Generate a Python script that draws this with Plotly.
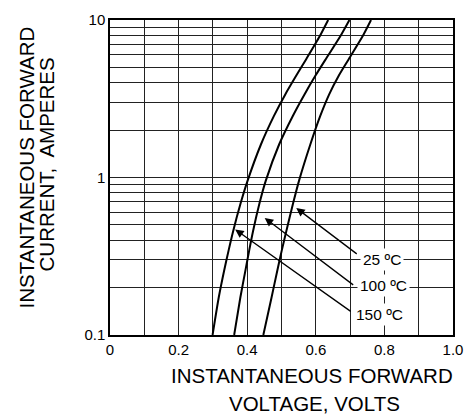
import math
import plotly.graph_objects as go

# ---- data ----
current_a = [0.1, 0.173, 0.258, 0.346, 0.456, 0.688, 0.952, 1.62, 2.46, 3.37, 4.47, 5.64, 7.85, 10.0]
v_150c = [0.299, 0.317, 0.333, 0.346, 0.359, 0.381, 0.401, 0.440, 0.478, 0.511, 0.544, 0.572, 0.611, 0.636]
v_100c = [0.362, 0.380, 0.395, 0.406, 0.417, 0.436, 0.454, 0.493, 0.533, 0.567, 0.600, 0.629, 0.671, 0.698]
v_25c = [0.447, 0.471, 0.488, 0.501, 0.514, 0.534, 0.551, 0.584, 0.613, 0.639, 0.668, 0.696, 0.736, 0.761]

series_names = ["25 ºC", "100 ºC", "150 ºC"]
arrow_tip_v = [0.543, 0.451, 0.365]
arrow_tip_i = [0.640, 0.553, 0.468]
label_v = [0.793, 0.796, 0.785]
label_i = [0.303, 0.205, 0.1346]

x_ticks = [0, 0.2, 0.4, 0.6, 0.8, 1.0]
x_tick_labels = ["0", "0.2", "0.4", "0.6", "0.8", "1.0"]
x_grid = [0.1, 0.3, 0.5, 0.7, 0.9]
y_ticks = [0.1, 1, 10]
y_tick_labels = ["0.1", "1", "10"]
y_grid = [0.2, 0.3, 0.4, 0.5, 0.6, 0.7, 0.8, 0.9, 2, 3, 4, 5, 6, 7, 8, 9]

FONT = "Liberation Sans, Arial, sans-serif"
GRID = "#222222"

fig = go.Figure()
for v in (v_25c, v_100c, v_150c):
    fig.add_trace(go.Scatter(x=v, y=current_a, mode="lines",
                             line=dict(color="black", width=2, shape="spline", smoothing=0.6),
                             showlegend=False, hoverinfo="skip"))

# arrows (tail offsets in pixels) and labels
arrow_offsets = [(62, 47), (90, 68), (117, 83)]
for name, tv, ti, lv, li, (ax, ay) in zip(series_names, arrow_tip_v, arrow_tip_i, label_v, label_i, arrow_offsets):
    fig.add_annotation(x=tv, y=math.log10(ti), xref="x", yref="y", ax=ax, ay=ay,
                       showarrow=True, arrowhead=2, arrowsize=1.3, arrowwidth=1.3,
                       arrowcolor="black", text="", standoff=0, startstandoff=0)
    fig.add_annotation(x=lv, y=math.log10(li), xref="x", yref="y", text=name,
                       showarrow=False, bgcolor="white", borderpad=2,
                       font=dict(family=FONT, size=15.5, color="black"))

# axis titles
fig.add_annotation(x=0.589, y=-0.128, xref="paper", yref="paper", text="INSTANTANEOUS FORWARD",
                   showarrow=False, xanchor="center", yanchor="middle",
                   font=dict(family=FONT, size=20.5, color="black"))
fig.add_annotation(x=0.595, y=-0.219, xref="paper", yref="paper", text="VOLTAGE, VOLTS",
                   showarrow=False, xanchor="center", yanchor="middle",
                   font=dict(family=FONT, size=20.5, color="black"))
fig.add_annotation(x=-0.243, y=0.531, xref="paper", yref="paper", text="INSTANTANEOUS FORWARD",
                   showarrow=False, xanchor="center", yanchor="middle", textangle=-90,
                   font=dict(family=FONT, size=20.5, color="black"))
fig.add_annotation(x=-0.184, y=0.541, xref="paper", yref="paper", text="CURRENT,  AMPERES",
                   showarrow=False, xanchor="center", yanchor="middle", textangle=-90,
                   font=dict(family=FONT, size=20.5, color="black"))

fig.update_xaxes(range=[0, 1], tickmode="array", tickvals=x_ticks, ticktext=x_tick_labels,
                 showgrid=True, gridcolor=GRID, gridwidth=1,
                 minor=dict(tickmode="array", tickvals=x_grid, showgrid=True, gridcolor=GRID, gridwidth=1, ticks=""),
                 showline=True, linecolor="black", linewidth=1.5, mirror=True, zeroline=False,
                 ticks="", tickfont=dict(family=FONT, size=15, color="black"))
fig.update_yaxes(type="log", range=[-1, 1], tickmode="array", tickvals=y_ticks, ticktext=y_tick_labels,
                 showgrid=True, gridcolor=GRID, gridwidth=1,
                 minor=dict(tickmode="array", tickvals=y_grid, showgrid=True, gridcolor=GRID, gridwidth=1, ticks=""),
                 showline=True, linecolor="black", linewidth=1.5, mirror=True, zeroline=False,
                 ticks="", tickfont=dict(family=FONT, size=15, color="black"))

fig.update_layout(width=474, height=417, margin=dict(l=110, r=11, t=17, b=82),
                  paper_bgcolor="white", plot_bgcolor="white", showlegend=False,
                  font=dict(family=FONT, color="black"))

fig.write_html("out.html", config={"displayModeBar": False},
               post_script="document.body.style.margin='0';document.body.style.overflow='hidden';")
